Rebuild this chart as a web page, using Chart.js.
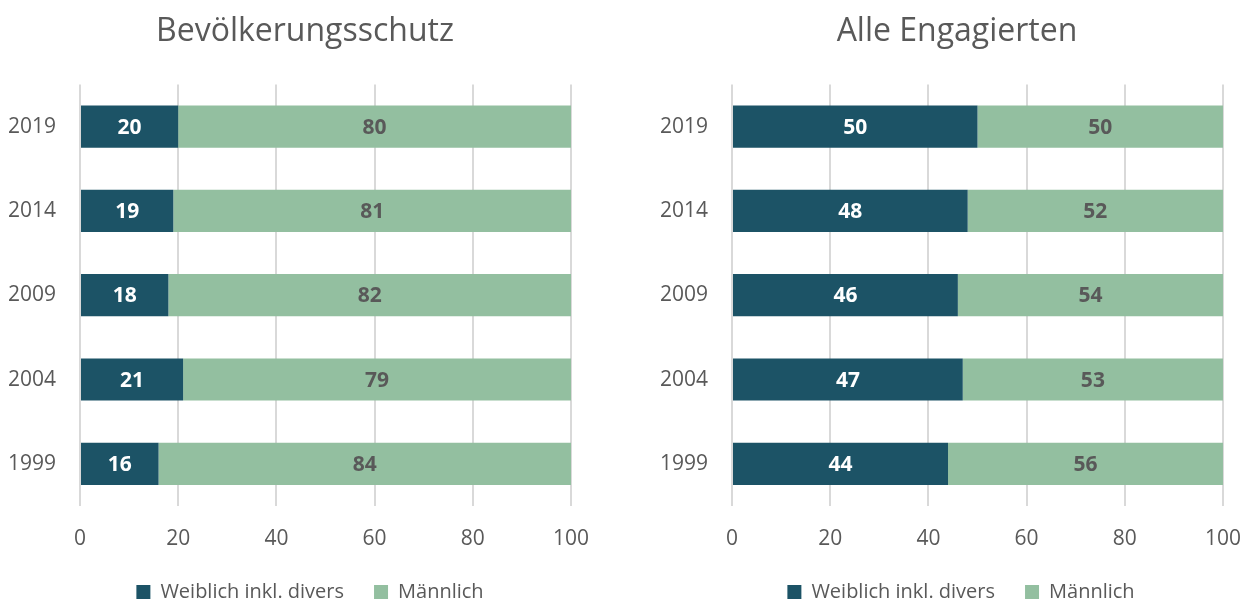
<!DOCTYPE html>
<html>
<head>
<meta charset="utf-8">
<script src="https://cdn.jsdelivr.net/npm/chart.js@4"></script>
<style>
  body { margin: 0; background: #fff; width: 1244px; height: 600px; overflow: hidden; position: relative; }
  .wrap { position: absolute; top: 0; height: 600px; }
</style>
</head>
<body>
<div class="wrap" style="left:0"><canvas id="leftChart" width="622" height="600"></canvas></div>
<div class="wrap" style="left:622px"><canvas id="rightChart" width="639" height="600"></canvas></div>
<script>
// data
const years = ['2019', '2014', '2009', '2004', '1999']
const schutzWeiblich = [20, 19, 18, 21, 16]
const schutzMaennlich = [80, 81, 82, 79, 84]
const alleWeiblich = [50, 48, 46, 47, 44]
const alleMaennlich = [50, 52, 54, 53, 56]
const xTicks = [0, 20, 40, 60, 80, 100]

const darkTeal = '#1c5366'
const lightGreen = '#93bfa0'
const textGrey = '#595959'
const font = "'Open Sans', sans-serif"

// write the numbers in the middle of each bar
const barLabels = {
  id: 'barLabels',
  afterDatasetsDraw(chart) {
    const ctx = chart.ctx
    ctx.save()
    ctx.font = 'bold 21px ' + font
    ctx.textAlign = 'center'
    ctx.textBaseline = 'middle'
    chart.data.datasets.forEach((ds, i) => {
      chart.getDatasetMeta(i).data.forEach((bar, j) => {
        ctx.fillStyle = i === 0 ? '#ffffff' : textGrey
        ctx.fillText(ds.data[j], (bar.x + bar.base) / 2, bar.y + 1)
      })
    })
    ctx.restore()
  }
}

// move title and legend so their centres sit where the original had them
const boxShift = {
  id: 'boxShift',
  afterLayout(chart, args, opts) {
    [[chart.legend, opts.legend], [chart.titleBlock, opts.title]].forEach(([box, c]) => {
      const dx = c - (box.left + box.right) / 2
      box.left += dx
      box.right += dx
    })
  }
}

function makeChart(id, title, weiblich, maennlich, axisWidth, padRight, titleCenter, legendCenter) {
  return new Chart(document.getElementById(id), {
    type: 'bar',
    data: {
      labels: years,
      datasets: [
        { label: 'Weiblich inkl. divers', data: weiblich, backgroundColor: darkTeal },
        { label: 'Männlich', data: maennlich, backgroundColor: lightGreen }
      ]
    },
    options: {
      indexAxis: 'y',
      responsive: false,
      animation: false,
      datasets: { bar: { categoryPercentage: 1, barPercentage: 0.5 } },
      layout: { padding: { left: 0, right: padRight, bottom: -12 } },
      scales: {
        x: {
          stacked: true,
          min: 0,
          max: 100,
          afterBuildTicks: axis => { axis.ticks = xTicks.map(v => ({ value: v })) },
          afterFit: axis => { axis.height = 46 },
          grid: { color: '#d9d9d9', lineWidth: 2, drawTicks: false },
          border: { display: false },
          ticks: { color: textGrey, font: { family: font, size: 21 }, padding: 20 }
        },
        y: {
          stacked: true,
          grid: { display: false },
          border: { display: false },
          afterFit: axis => { axis.width = axisWidth },
          ticks: { color: textGrey, font: { family: font, size: 21 }, padding: 16 }
        }
      },
      plugins: {
        title: {
          display: true,
          text: title,
          color: textGrey,
          font: { family: font, size: 32, weight: 'normal' },
          padding: { top: 13, bottom: 33 }
        },
        legend: {
          position: 'bottom',
          labels: {
            color: textGrey,
            font: { family: font, size: 20 },
            boxWidth: 14,
            boxHeight: 14,
            padding: 30
          }
        },
        boxShift: { title: titleCenter, legend: legendCenter },
        tooltip: { enabled: false }
      }
    },
    plugins: [barLabels, boxShift]
  })
}

makeChart('leftChart', 'Bevölkerungsschutz', schutzWeiblich, schutzMaennlich, 80, 51, 305, 310)
makeChart('rightChart', 'Alle Engagierten', alleWeiblich, alleMaennlich, 110, 38, 335, 339)
</script>
</body>
</html>
